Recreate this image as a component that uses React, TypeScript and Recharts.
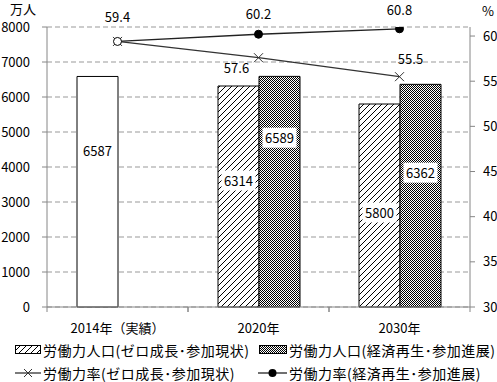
import React from 'react';
import { ComposedChart, Bar, Line, XAxis, YAxis, CartesianGrid, Cell, LabelList } from 'recharts';

const categories = ['2014年（実績）', '2020年', '2030年'];
const popZero = [6587, 6314, 5800];
const popGrowth: (number | null)[] = [null, 6589, 6362];
const rateZero = [59.4, 57.6, 55.5];
const rateGrowth = [59.4, 60.2, 60.8];
const leftTicks = [0, 1000, 2000, 3000, 4000, 5000, 6000, 7000, 8000];
const rightTicks = [30, 35, 40, 45, 50, 55, 60];
const legendLabels = [
  '労働力人口(ゼロ成長･参加現状)',
  '労働力人口(経済再生･参加進展)',
  '労働力率(ゼロ成長･参加現状)',
  '労働力率(経済再生･参加進展)',
];

const data = categories.map((name, i) => ({
  name,
  popZero: popZero[i],
  popGrowth: popGrowth[i],
  rateZero: rateZero[i],
  rateGrowth: rateGrowth[i],
}));

const FONT = '"Noto Sans CJK JP", "Noto Sans", sans-serif';
const AXIS = '#868686';
const BAND = 141;

const zeroBarLabelDy = [-41, -16, 7];
const growthBarLabelDy = [0, -54, -23];
const growthLineOffset = [
  [0, -25],
  [0, -21],
  [0, -19],
];
const zeroLineOffset = [
  [0, 0],
  [-22, 10],
  [11, -18],
];

const makeBarLabel = (values: (number | null)[], dys: number[]) => (p: any) => {
  const { x, y, width, height, value } = p;
  if (value == null) return null;
  const idx = values.findIndex((v) => v === Number(value));
  const cx = Number(x) + Number(width) / 2;
  const cy = Number(y) + Number(height) / 2 + (idx >= 0 ? dys[idx] : 0);
  return (
    <g key={`bl-${idx}`}>
      <rect x={cx - 17} y={cy - 10} width={34} height={20} fill="#fff" />
      <text x={cx} y={cy} textAnchor="middle" dominantBaseline="central" fontSize={13} fontFamily={FONT} fill="#000">
        {value}
      </text>
    </g>
  );
};

const makeLineLabel = (offs: number[][], skipFirst: boolean) => (p: any) => {
  const { x, y, value, index } = p;
  if (skipFirst && index === 0) return null;
  return (
    <text
      key={`ll-${index}`}
      x={Number(x) + offs[index][0]}
      y={Number(y) + offs[index][1]}
      textAnchor="middle"
      dominantBaseline="central"
      fontSize={13}
      fontFamily={FONT}
      fill="#000"
    >
      {value}
    </text>
  );
};

const XDot = (p: any) => {
  const { cx, cy, index } = p;
  const s = 4.5;
  return (
    <g key={`xd-${index}`}>
      <line x1={cx - s} y1={cy - s} x2={cx + s} y2={cy + s} stroke="#333" strokeWidth={1} />
      <line x1={cx - s} y1={cy + s} x2={cx + s} y2={cy - s} stroke="#333" strokeWidth={1} />
    </g>
  );
};

const CDot = (p: any) => {
  const { cx, cy, index } = p;
  return <circle key={`cd-${index}`} cx={cx} cy={cy} r={4} fill={index === 0 ? '#fff' : '#000'} stroke="#000" strokeWidth={1} />;
};

const XTick = (p: any) => {
  const { x, y, payload } = p;
  return (
    <g>
      <line x1={x - BAND / 2} y1={y} x2={x - BAND / 2} y2={y + 5} stroke={AXIS} />
      <line x1={x + BAND / 2} y1={y} x2={x + BAND / 2} y2={y + 5} stroke={AXIS} />
      <text x={x} y={y + 20} textAnchor="middle" dominantBaseline="central" fontSize={13} fontFamily={FONT} fill="#000">
        {payload.value}
      </text>
    </g>
  );
};

const legendText: React.CSSProperties = {
  position: 'absolute',
  fontFamily: FONT,
  fontSize: 14,
  letterSpacing: 0.5,
  lineHeight: '16px',
  whiteSpace: 'nowrap',
  color: '#000',
};

export default function App() {
  return (
    <div style={{ position: 'absolute', left: 0, top: 0, width: 497, height: 382, background: '#fff' }}>
      <svg width={0} height={0} style={{ position: 'absolute' }}>
        <defs>
          <pattern id="hatch" patternUnits="userSpaceOnUse" width={6} height={6}>
            <rect width={6} height={6} fill="#fff" />
            <path d="M0,6 L6,0 M-1,1 L1,-1 M5,7 L7,5" stroke="#000" strokeWidth={1} />
          </pattern>
          <pattern id="check" patternUnits="userSpaceOnUse" width={2} height={2}>
            <rect width={2} height={2} fill="#fff" />
            <rect x={0} y={0} width={1} height={1} fill="#000" />
            <rect x={1} y={1} width={1} height={1} fill="#000" />
          </pattern>
        </defs>
      </svg>
      <div style={{ position: 'absolute', left: 10, top: 1, fontFamily: FONT, fontSize: 13, lineHeight: '15px' }}>万人</div>
      <div style={{ position: 'absolute', left: 482, top: 3, fontFamily: FONT, fontSize: 13, lineHeight: '16px' }}>%</div>
      <ComposedChart
        width={497}
        height={382}
        data={data}
        margin={{ top: 27, right: 0, bottom: 45, left: 0 }}
        barGap={0}
      >
        <CartesianGrid yAxisId="left" vertical={false} stroke="#999" strokeDasharray="5 3" />
        <XAxis
          dataKey="name"
          height={30}
          tickLine={false}
          tickSize={0}
          tickMargin={0}
          stroke={AXIS}
          tick={<XTick />}
          interval={0}
        />
        <YAxis
          yAxisId="left"
          width={47}
          domain={[0, 8000]}
          ticks={leftTicks}
          stroke={AXIS}
          tickSize={5}
          tickMargin={12}
          tick={{ fontSize: 13, fontFamily: FONT, fill: '#000' }}
          interval={0}
        />
        <YAxis
          yAxisId="right"
          orientation="right"
          width={27}
          domain={[30, 61]}
          allowDataOverflow
          ticks={rightTicks}
          stroke={AXIS}
          tickSize={5}
          tickMargin={8}
          tick={{ fontSize: 13, fontFamily: FONT, fill: '#000', textAnchor: 'start' }}
          interval={0}
        />
        <Bar yAxisId="left" dataKey="popZero" barSize={41} stroke="#000" strokeWidth={1} isAnimationActive={false}>
          {data.map((_, i) => (
            <Cell key={i} fill={i === 0 ? '#fff' : 'url(#hatch)'} />
          ))}
          <LabelList dataKey="popZero" content={makeBarLabel(popZero, zeroBarLabelDy)} />
        </Bar>
        <Bar yAxisId="left" dataKey="popGrowth" barSize={41} fill="url(#check)" stroke="#000" strokeWidth={1} isAnimationActive={false}>
          <LabelList dataKey="popGrowth" content={makeBarLabel(popGrowth, growthBarLabelDy)} />
        </Bar>
        <Line
          yAxisId="right"
          dataKey="rateZero"
          stroke="#333"
          strokeWidth={1.3}
          dot={XDot}
          activeDot={false}
          isAnimationActive={false}
        >
          <LabelList dataKey="rateZero" content={makeLineLabel(zeroLineOffset, true)} />
        </Line>
        <Line
          yAxisId="right"
          dataKey="rateGrowth"
          stroke="#222"
          strokeWidth={1.3}
          dot={CDot}
          activeDot={false}
          isAnimationActive={false}
        >
          <LabelList dataKey="rateGrowth" content={makeLineLabel(growthLineOffset, false)} />
        </Line>
      </ComposedChart>
      <svg width={497} height={40} style={{ position: 'absolute', left: 0, top: 342 }}>
        <rect x={15.5} y={3.5} width={25} height={8} fill="url(#hatch)" stroke="#000" />
        <rect x={259.5} y={3.5} width={27} height={8} fill="url(#check)" stroke="#000" />
        <line x1={15} y1={31} x2={41} y2={31} stroke="#333" strokeWidth={1.3} />
        <line x1={24} y1={27} x2={32} y2={35} stroke="#333" />
        <line x1={24} y1={35} x2={32} y2={27} stroke="#333" />
        <line x1={258} y1={31} x2={287} y2={31} stroke="#222" strokeWidth={1.3} />
        <circle cx={272.5} cy={31} r={4} fill="#000" />
      </svg>
      <div style={{ ...legendText, left: 43, top: 342 }}>{legendLabels[0]}</div>
      <div style={{ ...legendText, left: 289, top: 342 }}>{legendLabels[1]}</div>
      <div style={{ ...legendText, left: 43, top: 365 }}>{legendLabels[2]}</div>
      <div style={{ ...legendText, left: 289, top: 365 }}>{legendLabels[3]}</div>
    </div>
  );
}
